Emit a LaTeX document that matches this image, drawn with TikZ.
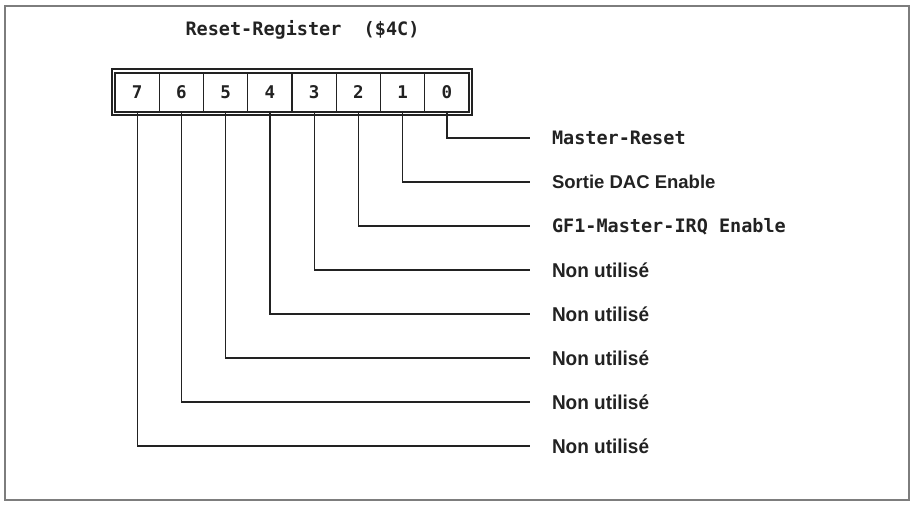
\documentclass[tikz,border=0pt]{standalone}
\usepackage{fontspec}
\setmainfont{Liberation Sans}
\newfontfamily\monofont{DejaVu Sans Mono}
\newfontfamily\narrowfont[FakeStretch=0.95]{Liberation Sans}
\usetikzlibrary{positioning}
\definecolor{ink}{RGB}{34,34,34}
\definecolor{framegray}{RGB}{125,125,125}

\tikzset{
  bitcell/.style={draw=ink, line width=1.2pt, minimum width=44.25pt,
    minimum height=39pt, inner sep=0pt, text=ink,
    font=\monofont\bfseries\fontsize{17.5}{18}\selectfont},
  wire/.style={draw=ink, line width=1.2pt},
  desc/.style={anchor=west, inner xsep=0pt, inner ysep=0pt, outer xsep=22pt,
    text height=13pt, text depth=0pt, text=ink},
  monodesc/.style={desc, font=\monofont\bfseries\fontsize{18.5}{20}\selectfont},
  sansdesc/.style={desc, font=\bfseries\fontsize{18.5}{20}\selectfont},
  narrowdesc/.style={desc, text height=14pt,
    font=\narrowfont\bfseries\fontsize{20}{22}\selectfont}
}

\begin{document}
\begin{tikzpicture}[x=1pt,y=-1pt]

  \useasboundingbox (0,0) rectangle (915,504);

  % page frame
  \draw[framegray, line width=1.6pt] (5,6) rectangle (909,500);

  % title
  \node[anchor=base, inner sep=0pt, text=ink,
    font=\monofont\bfseries\fontsize{18.5}{20}\selectfont] (title) at (302.5,35)
    {Reset-Register\ \ (\$4C)};

  % register frame
  \draw[ink, line width=2pt] (112,69) rectangle (472,115);

  % bit cells, bit 7 on the left
  \node[bitcell] (b7) at (137.1,92.5) {7};
  \node[bitcell] (b6) at (181.4,92.5) {6};
  \node[bitcell] (b5) at (225.6,92.5) {5};
  \node[bitcell] (b4) at (269.9,92.5) {4};
  \node[bitcell] (b3) at (314.1,92.5) {3};
  \node[bitcell] (b2) at (358.4,92.5) {2};
  \node[bitcell] (b1) at (402.6,92.5) {1};
  \node[bitcell] (b0) at (446.9,92.5) {0};

  % bit descriptions
  \node[monodesc] (l0) at (530,138) {Master-Reset};
  \node[sansdesc] (l1) at (530,182) {Sortie DAC Enable};
  \node[monodesc] (l2) at (530,226) {GF1-Master-IRQ Enable};
  \node[narrowdesc] (l3) at (530,270) {Non utilisé};
  \node[narrowdesc] (l4) at (530,314) {Non utilisé};
  \node[narrowdesc] (l5) at (530,358) {Non utilisé};
  \node[narrowdesc] (l6) at (530,402) {Non utilisé};
  \node[narrowdesc] (l7) at (530,446) {Non utilisé};

  % leader lines
  \draw[wire] (b0.south) |- (l0.west);
  \draw[wire] (b1.south) |- (l1.west);
  \draw[wire] (b2.south) |- (l2.west);
  \draw[wire] (b3.south) |- (l3.west);
  \draw[wire] (b4.south) |- (l4.west);
  \draw[wire] (b5.south) |- (l5.west);
  \draw[wire] (b6.south) |- (l6.west);
  \draw[wire] (b7.south) |- (l7.west);

\end{tikzpicture}
\end{document}
